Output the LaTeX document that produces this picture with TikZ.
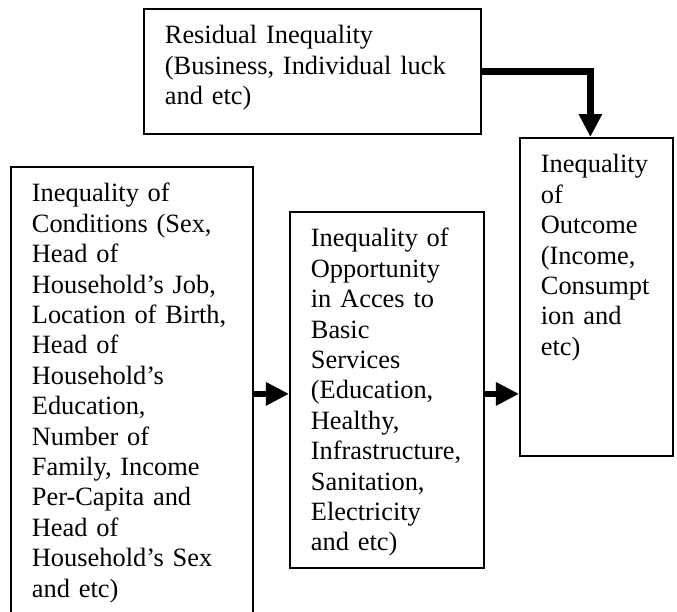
\documentclass[tikz,border=0pt]{standalone}
\usepackage{fontspec}
\setmainfont{Liberation Serif}
\usepackage{tikz}
\usetikzlibrary{arrows.meta}
\usetikzlibrary{positioning}

\begin{document}
\begin{tikzpicture}[x=0.5pt,y=-0.5pt,>={Triangle[length=11.5pt,width=11pt]},
	box node/.style={rectangle,draw,line width=0.9pt,anchor=north west,align=left,
		inner xsep=10.5pt,inner ysep=8.5pt,text height=9pt,
		font=\fontsize{13.2}{15.2}\selectfont},
	flow/.style={->,line width=3.2pt}]
	
	\useasboundingbox (0,0) rectangle (677,612);
	
	\node[box node,text width=147.5pt,text depth=36.5pt] (res) at (143,8)
	{Residual Inequality\\(Business, Individual luck\\and etc)};
	\node[box node,text width=100pt,text depth=199pt] (cond) at (10,166)
	{Inequality of\\Conditions (Sex,\\Head of\\Household’s Job,\\Location of Birth,\\Head of\\Household’s\\Education,\\Number of\\Family, Income\\Per-Capita and\\Head of\\Household’s Sex\\and etc)};
	\node[box node,text width=76pt,text depth=152pt] (opp) at (289,211)
	{Inequality of\\Opportunity\\in Acces to\\Basic\\Services\\(Education,\\Healthy,\\Infrastructure,\\Sanitation,\\Electricity\\and etc)};
	\node[box node,text width=55.5pt,text depth=133pt] (out) at (519,137)
	{Inequality\\of\\Outcome\\(Income,\\Consumpt\\ion and\\etc)};
	
	\draw[flow] (res.east) -| ([xshift=-3pt]out.north);
	\draw[flow] ([yshift=-2pt]opp.west -| cond.east) -- ([yshift=-2pt]opp.west);
	\draw[flow] ([yshift=-2pt]opp.east) -- ([yshift=-2pt]opp.east -| out.west);
\end{tikzpicture}
\end{document}
